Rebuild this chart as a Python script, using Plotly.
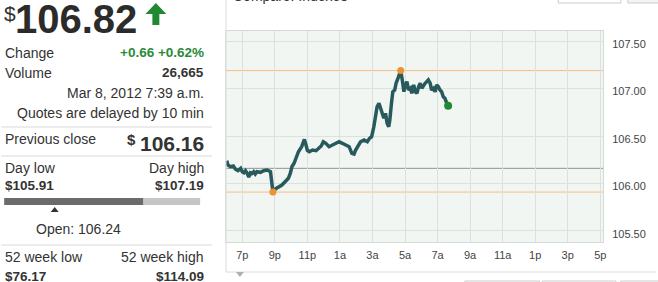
import plotly.graph_objects as go

# ---------------- data ----------------
times = [
    "2012-03-07 18:03", "2012-03-07 18:07", "2012-03-07 18:17", "2012-03-07 18:27", "2012-03-07 18:35",
    "2012-03-07 18:44", "2012-03-07 18:54", "2012-03-07 19:00", "2012-03-07 19:06", "2012-03-07 19:12",
    "2012-03-07 19:18", "2012-03-07 19:24", "2012-03-07 19:30", "2012-03-07 19:36", "2012-03-07 19:42",
    "2012-03-07 19:48", "2012-03-07 19:54", "2012-03-07 20:07", "2012-03-07 20:19", "2012-03-07 20:31",
    "2012-03-07 20:44", "2012-03-07 20:47", "2012-03-07 20:51", "2012-03-07 20:53", "2012-03-07 21:05",
    "2012-03-07 21:14", "2012-03-07 21:26", "2012-03-07 21:38", "2012-03-07 21:50", "2012-03-07 21:57",
    "2012-03-07 22:03", "2012-03-07 22:11", "2012-03-07 22:19", "2012-03-07 22:27", "2012-03-07 22:39",
    "2012-03-07 22:49", "2012-03-07 22:55", "2012-03-07 23:00", "2012-03-07 23:07", "2012-03-07 23:19",
    "2012-03-07 23:32", "2012-03-07 23:44", "2012-03-07 23:51", "2012-03-07 23:59", "2012-03-08 00:08",
    "2012-03-08 00:20", "2012-03-08 00:33", "2012-03-08 00:45", "2012-03-08 00:57", "2012-03-08 01:09",
    "2012-03-08 01:22", "2012-03-08 01:34", "2012-03-08 01:44", "2012-03-08 01:52", "2012-03-08 01:58",
    "2012-03-08 02:04", "2012-03-08 02:16", "2012-03-08 02:29", "2012-03-08 02:41", "2012-03-08 02:49",
    "2012-03-08 02:57", "2012-03-08 03:05", "2012-03-08 03:11", "2012-03-08 03:17", "2012-03-08 03:24",
    "2012-03-08 03:30", "2012-03-08 03:36", "2012-03-08 03:42", "2012-03-08 03:48", "2012-03-08 03:54",
    "2012-03-08 04:00", "2012-03-08 04:04", "2012-03-08 04:10", "2012-03-08 04:15", "2012-03-08 04:22",
    "2012-03-08 04:27", "2012-03-08 04:34", "2012-03-08 04:39", "2012-03-08 04:44", "2012-03-08 04:49",
    "2012-03-08 04:52", "2012-03-08 04:56", "2012-03-08 05:01", "2012-03-08 05:07", "2012-03-08 05:13",
    "2012-03-08 05:20", "2012-03-08 05:25", "2012-03-08 05:32", "2012-03-08 05:38", "2012-03-08 05:44",
    "2012-03-08 05:50", "2012-03-08 05:56", "2012-03-08 06:02", "2012-03-08 06:08", "2012-03-08 06:14",
    "2012-03-08 06:20", "2012-03-08 06:26", "2012-03-08 06:33", "2012-03-08 06:38", "2012-03-08 06:45",
    "2012-03-08 06:51", "2012-03-08 06:57", "2012-03-08 07:03", "2012-03-08 07:09", "2012-03-08 07:15",
    "2012-03-08 07:21", "2012-03-08 07:27", "2012-03-08 07:32", "2012-03-08 07:39",
]
prices = [
    106.24, 106.195, 106.177, 106.184, 106.150,
    106.135, 106.160, 106.124, 106.114, 106.135,
    106.107, 106.068, 106.114, 106.107, 106.124,
    106.100, 106.124, 106.118, 106.135, 106.142,
    106.124, 106.037, 105.984, 105.91, 105.949,
    105.966, 105.984, 106.019, 106.055, 106.107,
    106.177, 106.213, 106.266, 106.335, 106.388,
    106.464, 106.406, 106.348, 106.335, 106.353,
    106.346, 106.371, 106.395, 106.440, 106.424,
    106.388, 106.406, 106.424, 106.440, 106.424,
    106.406, 106.388, 106.318, 106.311, 106.353,
    106.388, 106.440, 106.458, 106.440, 106.476,
    106.493, 106.598, 106.704, 106.809, 106.845,
    106.792, 106.740, 106.687, 106.740, 106.634,
    106.598, 106.669, 106.845, 106.967, 106.985,
    107.056, 107.108, 107.143, 107.19, 107.108,
    107.020, 106.967, 107.038, 107.073, 106.985,
    107.003, 106.950, 107.038, 106.967, 106.950,
    107.020, 107.056, 107.003, 107.038, 107.056,
    107.073, 107.091, 107.056, 106.985, 107.003,
    106.967, 107.038, 107.020, 106.985, 106.967,
    106.915, 106.898, 106.862, 106.82,
]
x_tickvals = ["2012-03-07 19:00", "2012-03-07 21:00", "2012-03-07 23:00", "2012-03-08 01:00",
              "2012-03-08 03:00", "2012-03-08 05:00", "2012-03-08 07:00", "2012-03-08 09:00",
              "2012-03-08 11:00", "2012-03-08 13:00", "2012-03-08 15:00", "2012-03-08 17:00"]
x_ticktext = ["7p", "9p", "11p", "1a", "3a", "5a", "7a", "9a", "11a", "1p", "3p", "5p"]
y_tickvals = [105.5, 106.0, 106.5, 107.0, 107.5]

last_price = 106.82
change_abs = 0.66
change_pct = 0.62
volume = 26665
quote_time = "Mar 8, 2012 7:39 a.m."
prev_close = 106.16
day_low = 105.91
day_high = 107.19
open_price = 106.24
wk52_low = 76.17
wk52_high = 114.09

# ---------------- layout helpers ----------------
W, H = 658, 282
ML, MR, MT, MB = 226, 53, 31, 40
PW = W - ML - MR
PH = H - MT - MB
FONT = "Arial, 'Liberation Sans', sans-serif"
TXT = "#333333"
GREEN = "#2a8a3a"


def px(x):
    return (x - ML) / PW


def py(y):
    return (H - MB - y) / PH


annotations = []
shapes = []


def txt(text, x, y, size=14, color=TXT, bold=False, anchor="left"):
    annotations.append(dict(
        text=("<b>%s</b>" % text) if bold else text,
        x=px(x), y=py(y), xref="paper", yref="paper",
        xanchor=anchor, yanchor="middle", showarrow=False, borderpad=0,
        font=dict(size=size, color=color, family=FONT)))


def hline(x0, x1, y, color="#d9d9d9", width=1):
    shapes.append(dict(type="line", xref="paper", yref="paper",
                       x0=px(x0), x1=px(x1), y0=py(y), y1=py(y),
                       line=dict(color=color, width=width)))


def vline(x, y0, y1, color="#d9d9d9", width=1):
    shapes.append(dict(type="line", xref="paper", yref="paper",
                       x0=px(x), x1=px(x), y0=py(y0), y1=py(y1),
                       line=dict(color=color, width=width)))


def rect(x0, y0, x1, y1, fill, line="rgba(0,0,0,0)", lw=0):
    shapes.append(dict(type="rect", xref="paper", yref="paper",
                       x0=px(x0), x1=px(x1), y0=py(y1), y1=py(y0),
                       fillcolor=fill, line=dict(color=line, width=lw)))


def poly(points, fill):
    d = "M" + " L".join("%f,%f" % (px(a), py(b)) for a, b in points) + " Z"
    shapes.append(dict(type="path", xref="paper", yref="paper", path=d,
                       fillcolor=fill, line=dict(width=0)))


# ---------------- left quote panel ----------------
txt("$", 2, 14, size=21)
txt("<b>%.2f</b>" % last_price, 13, 19, size=40, color="#2b2b2b")
poly([(145, 14), (155.5, 3), (166, 14), (159, 14), (159, 25), (152, 25), (152, 14)], "#1f8a32")

txt("Change", 3, 53)
txt("+%.2f +%.2f%%" % (change_abs, change_pct), 205, 53, size=13.5, bold=True, color=GREEN, anchor="right")
txt("Volume", 3, 73)
txt("{:,}".format(volume), 205, 73, size=13.5, bold=True, anchor="right")
txt(quote_time, 205, 93, anchor="right")
txt("Quotes are delayed by 10 min", 205, 113, anchor="right")
hline(0, 212, 127)

txt("Previous close", 3, 139)
txt("$", 125, 139, size=15, bold=True, anchor="left")
txt("%.2f" % prev_close, 205, 143, size=21, bold=True, anchor="right")
hline(0, 212, 156)

txt("Day low", 3, 168)
txt("Day high", 205, 168, anchor="right")
txt("$%.2f" % day_low, 3, 186, size=13.5, bold=True)
txt("$%.2f" % day_high, 205, 186, size=13.5, bold=True, anchor="right")
BAR_X0, BAR_X1 = 3, 200
frac_now = (last_price - day_low) / (day_high - day_low)
frac_open = (open_price - day_low) / (day_high - day_low)
xm = BAR_X0 + (BAR_X1 - BAR_X0) * frac_now
rect(BAR_X0, 198, xm, 205, "#6b6b6b")
rect(xm, 198, BAR_X1, 205, "#c6c6c6")
xo = BAR_X0 + (BAR_X1 - BAR_X0) * frac_open
poly([(xo - 4, 212), (xo, 207), (xo + 4, 212)], "#333333")
txt("Open: %.2f" % open_price, 34, 229)
hline(0, 212, 245)

txt("52 week low", 3, 257)
txt("52 week high", 205, 257, anchor="right")
txt("$%.2f" % wk52_low, 3, 276, size=13.5, bold=True)
txt("$%.2f" % wk52_high, 205, 276, size=13.5, bold=True, anchor="right")

# ---------------- chart container decorations ----------------
vline(226, 0, 272, color="#dcdcdc")
hline(226, 658, 272, color="#dcdcdc")
txt("Compare: Indexes", 232, -4, size=14)
rect(560, -10, 623, 3, "#ffffff", line="#cccccc", lw=1)
rect(630, -10, 668, 3, "#f4f4f4", line="#cccccc", lw=1)
rect(466, 281, 541, 295, "#ffffff", line="#cccccc", lw=1)
rect(544, 281, 618, 295, "#ffffff", line="#cccccc", lw=1)
rect(623, 281, 668, 295, "#ffffff", line="#cccccc", lw=1)
poly([(236, 272), (244, 272), (240, 277)], "#a9b2ae")

# ---------------- chart ----------------
fig = go.Figure()

# reference lines (day high/low in orange, previous close in gray)
for val, col in [(day_high, "#f6bd86"), (day_low, "#f6bd86"), (prev_close, "#8e9490")]:
    shapes.append(dict(type="line", xref="paper", yref="y", x0=0, x1=1, y0=val, y1=val,
                       line=dict(color=col, width=1), layer="below"))

fig.add_trace(go.Scatter(x=times, y=prices, mode="lines",
                         line=dict(color="#27595d", width=3.5), hoverinfo="skip"))

i_hi = prices.index(max(prices))
i_lo = prices.index(min(prices))
fig.add_trace(go.Scatter(x=[times[i_hi], times[i_lo]], y=[prices[i_hi], prices[i_lo]],
                         mode="markers", marker=dict(color="#f0922e", size=7), hoverinfo="skip"))
fig.add_trace(go.Scatter(x=[times[-1]], y=[prices[-1]], mode="markers",
                         marker=dict(color="#1e8a34", size=8), hoverinfo="skip"))

fig.update_layout(
    width=W, height=H,
    margin=dict(l=ML, r=MR, t=MT, b=MB, pad=0),
    paper_bgcolor="#ffffff",
    plot_bgcolor="#f1f6f2",
    showlegend=False,
    font=dict(family=FONT, color="#444444", size=11),
    annotations=annotations,
    shapes=shapes,
    xaxis=dict(
        type="date",
        range=["2012-03-07 18:00", "2012-03-08 17:10"],
        tickvals=x_tickvals, ticktext=x_ticktext,
        ticks="", ticklabelstandoff=3,
        showgrid=True, gridcolor="#dae2dc", gridwidth=1,
        showline=True, mirror=True, linecolor="#d3dbd5", linewidth=1,
        zeroline=False, fixedrange=True,
        tickfont=dict(size=11, color="#444444"),
    ),
    yaxis=dict(
        side="right",
        range=[105.384, 107.607],
        tickvals=y_tickvals, tickformat=".2f",
        ticks="", ticklabelstandoff=6, ticklabelshift=3,
        showgrid=True, gridcolor="#dae2dc", gridwidth=1,
        showline=True, mirror=True, linecolor="#d3dbd5", linewidth=1,
        zeroline=False, fixedrange=True,
        tickfont=dict(size=11, color="#444444"),
    ),
)

fig.write_html("out.html", config=dict(displayModeBar=False))
